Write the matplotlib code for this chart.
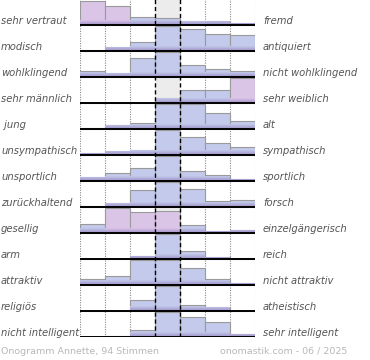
import numpy as np
import matplotlib
matplotlib.use('Agg')
import matplotlib.pyplot as plt
from matplotlib.colors import to_rgb

left_labels = ["sehr vertraut", "modisch", "wohlklingend", "sehr männlich", " jung",
               "unsympathisch", "unsportlich", "zurückhaltend", "gesellig", "arm",
               "attraktiv", "religiös", "nicht intelligent"]
right_labels = ["fremd", "antiquiert", "nicht wohlklingend", "sehr weiblich", "alt",
                "sympathisch", "sportlich", "forsch", "einzelgängerisch", "reich",
                "nicht attraktiv", "atheistisch", "sehr intelligent"]

# bar heights per row (7 scale steps), full row = 26
values = [
    [24, 19, 7.7, 7.5, 4, 4.3, 1.7],
    [1, 4.3, 9.3, 25, 22, 16.7, 15.7],
    [6.3, 3.7, 19.3, 25, 12.3, 7.7, 5.7],
    [0, 0, 0, 5.3, 12.7, 12.7, 25],
    [1.3, 3.7, 5.7, 25, 25, 15.7, 7.7],
    [2.3, 4.3, 4.7, 25, 18.3, 12, 8.3],
    [4.3, 7.7, 13.3, 25, 10.3, 5.7, 2.3],
    [1, 3.7, 17, 25, 17.7, 5.7, 6.7],
    [9, 25, 21.3, 21.7, 8.3, 1.7, 3.3],
    [0, 0, 3.3, 25, 8.3, 2, 1],
    [6, 9, 25, 25, 16.7, 5.7, 2.3],
    [0, 0, 11.3, 25, 5.7, 3.7, 0.5],
    [0, 1.3, 7.3, 25, 20, 14.7, 3.3],
]
# 1 = pink-tinted bar
pink = [
    [1, 1, 0, 0, 0, 0, 0],
    [0, 0, 0, 0, 0, 0, 0],
    [0, 0, 0, 0, 0, 0, 0],
    [0, 0, 0, 0, 0, 0, 1],
    [0, 0, 0, 0, 0, 0, 0],
    [0, 0, 0, 0, 0, 0, 0],
    [0, 0, 0, 0, 0, 0, 0],
    [0, 0, 0, 0, 0, 0, 0],
    [0, 1, 1, 1, 0, 0, 0],
    [0, 0, 0, 0, 0, 0, 0],
    [0, 0, 0, 0, 0, 0, 0],
    [0, 0, 0, 0, 0, 0, 0],
    [0, 0, 0, 0, 0, 0, 0],
]
footer_left = "Onogramm Annette, 94 Stimmen"
footer_right = "onomastik.com - 06 / 2025"

W, H = 370, 360
PITCH = 26.0
n = len(values)
ncol = 7

fig = plt.figure(figsize=(W / 100, H / 100), dpi=100)
ax = fig.add_axes([80 / W, (H - 337) / H, 175 / W, (n * PITCH) / H])
ax.axis('off')

BLUE = '#c3caeb'
PINK = '#dbc5e7'
DARK = '#9d8fc6'

# middle column background
ax.axvspan(3, 4, ymin=0, ymax=1, color='#ececec', zorder=0, lw=0)
for xv in [0, 1, 2, 5, 6, 7]:
    ax.axvline(xv, color='#8a8a8a', ls=(0, (1, 1.2)), lw=0.8, zorder=1)

band = 4.5 / PITCH
for i, row in enumerate(values):
    base = n - 1 - i
    h = np.array(row) / PITCH
    cols = [PINK if p else BLUE for p in pink[i]]
    bars = ax.bar(np.arange(ncol), h, bottom=base, width=1, align='edge',
                  color=cols, edgecolor='#9a9a9a', lw=0.8, zorder=2)
    for j, b in enumerate(bars):
        if row[j] <= 0:
            continue
        c1 = np.array(to_rgb(DARK))
        c2 = np.array(to_rgb(cols[j]))
        t = np.linspace(0, 1, 24).reshape(-1, 1, 1)
        img = (c1 * (1 - t) + c2 * t)
        img = np.concatenate([img, np.ones((24, 1, 1))], axis=2)
        im = ax.imshow(img, extent=(j, j + 1, base, base + band), origin='lower',
                       aspect='auto', zorder=2.5, interpolation='bilinear')
        im.set_clip_path(b)

for xv in [3, 4]:
    ax.axvline(xv, color='black', ls=(0, (3, 2)), lw=1.0, zorder=3)

ax.hlines([n - 1 - i for i in range(n)], 0, ncol, color='black', lw=1.4, zorder=4)
ax.set_xlim(0, ncol)
ax.set_ylim(0, n)

for i in range(n):
    base_px = 25 + PITCH * i
    yb = 1 - (base_px - 1) / H
    fig.text(1 / W, yb, left_labels[i], ha='left', va='baseline', fontsize=7.2,
             style='italic', color='#555555')
    fig.text(263 / W, yb, right_labels[i], ha='left', va='baseline', fontsize=7.2,
             style='italic', color='#555555')

fig.text(1 / W, 1 - 354 / H, footer_left, ha='left', va='baseline', fontsize=6.8,
         color='#b8b8b8')
fig.text(347 / W, 1 - 354 / H, footer_right, ha='right', va='baseline', fontsize=6.8,
         color='#b8b8b8')

fig.savefig('out.png', dpi=100)
